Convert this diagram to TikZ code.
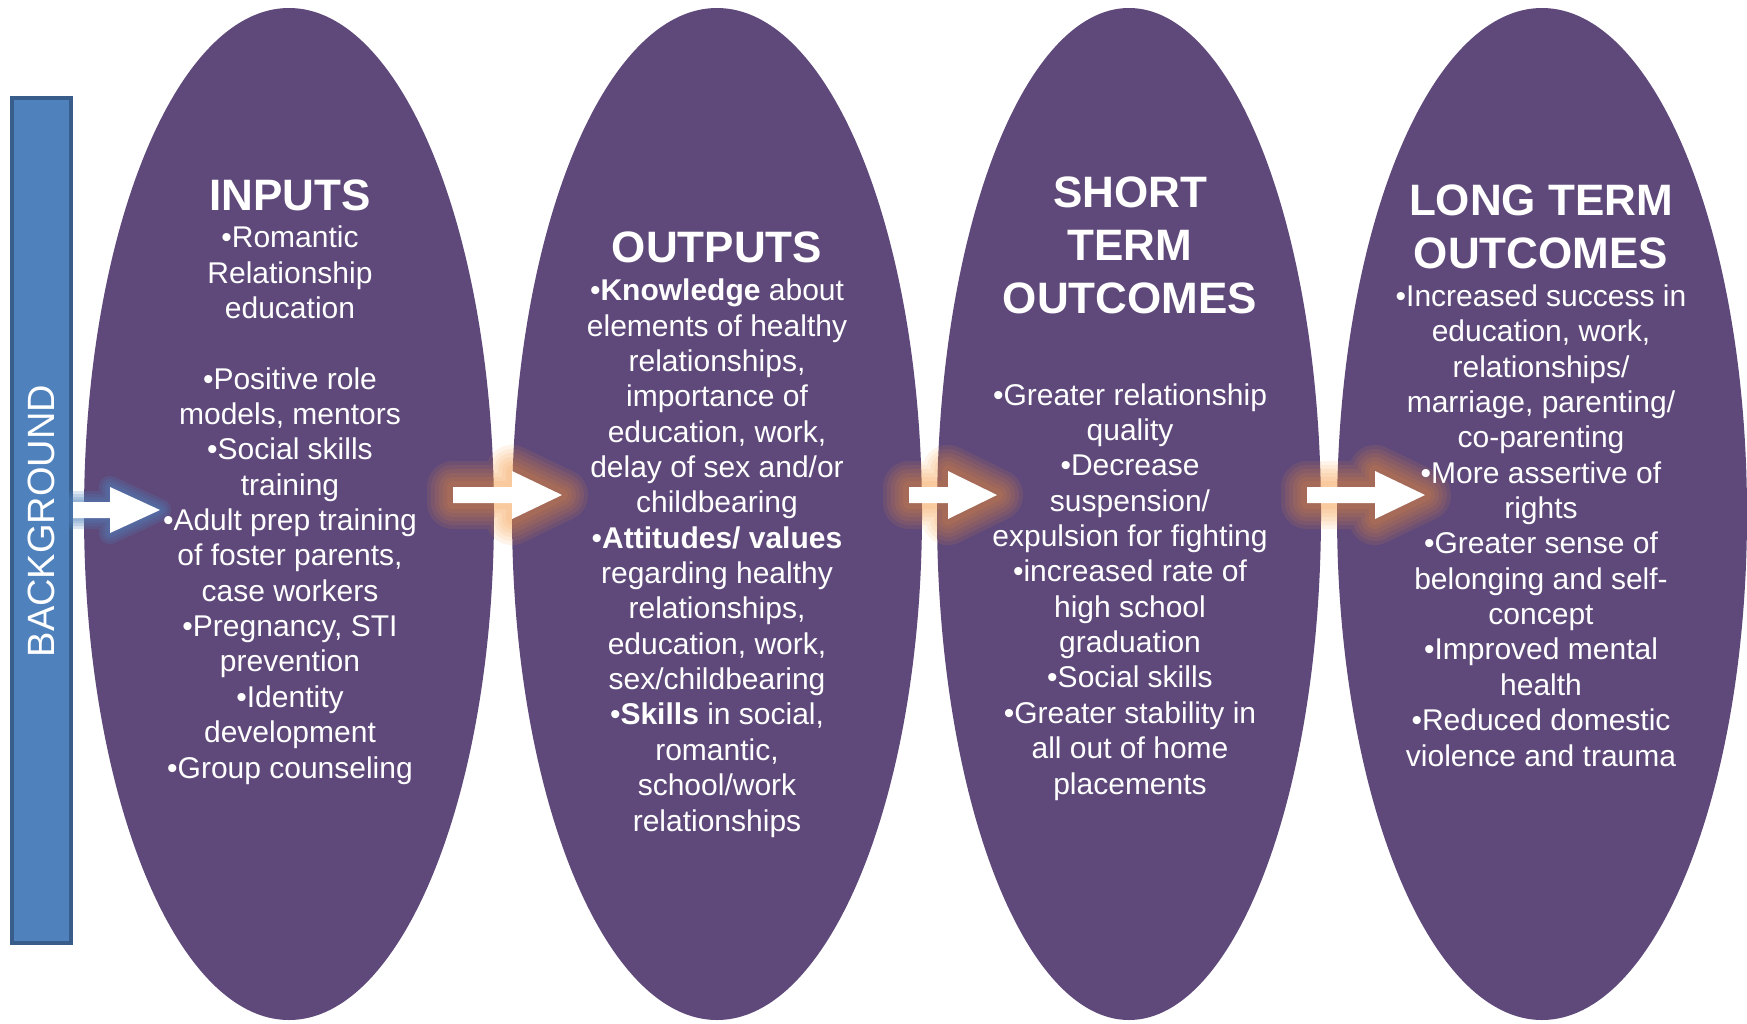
\documentclass[tikz,border=0pt]{standalone}
\usepackage{fontspec}
\setmainfont{Liberation Sans}
\usetikzlibrary{shapes.geometric}
\definecolor{ellpurple}{HTML}{5F497A}
\definecolor{barblue}{HTML}{4F81BD}
\definecolor{bardark}{HTML}{385D8A}
\definecolor{glowor}{HTML}{F79438}
\definecolor{glowbl}{HTML}{4F81BD}
% #1 start x, #2 head base x, #3 tip x, #4 centre y, #5 half shaft, #6 half head, #7 options
\newcommand\arrowwith[7]{\path[#7] (#1,#4-#5) -- (#2,#4-#5) -- (#2,#4-#6) -- (#3,#4) -- (#2,#4+#6) -- (#2,#4+#5) -- (#1,#4+#5) -- cycle;}
\tikzset{
  oval/.style={ellipse, fill=ellpurple, inner sep=0pt, minimum height=1012pt},
  ttl/.style={text=white, font=\fontsize{44}{53}\selectfont\bfseries, align=center, inner sep=0pt, anchor=base},
  bdy/.style={text=white, font=\fontsize{30}{35.35}\selectfont, align=center, inner sep=0pt, anchor=base},
}
\begin{document}
\begin{tikzpicture}[x=1pt,y=-1pt]
\useasboundingbox[fill=white] (0,0) rectangle (1747,1023);

% ovals
\node[oval, minimum width=410pt] (e1) at (289,514) {};
\node[oval, minimum width=410pt] (e2) at (717,514) {};
\node[oval, minimum width=384pt] (e3) at (1129,514) {};
\node[oval, minimum width=410pt] (e4) at (1542,514) {};

% background bar
\node[draw=bardark, fill=barblue, line width=4pt, minimum width=59pt, minimum height=845pt, inner sep=0pt] (bar) at (41.5,520.5) {};
\node[rotate=90, text=white, font=\fontsize{38}{40}\selectfont, inner sep=0pt] (bgtext) at (41,521) {BACKGROUND};

% glows
\foreach \w in {22,16,10,5}{\arrowwith{73}{110}{160}{510}{8}{23}{draw=glowbl, line width=\w pt, draw opacity=.2, line join=round}}
\foreach \w in {52,44,36,28,20,12}{
  \arrowwith{453}{512}{562}{495}{8}{24}{draw=glowor, line width=\w pt, draw opacity=.1, line join=round}
  \arrowwith{909}{948}{997}{495}{8}{24}{draw=glowor, line width=\w pt, draw opacity=.1, line join=round}
  \arrowwith{1307}{1375}{1425}{495}{8}{24}{draw=glowor, line width=\w pt, draw opacity=.1, line join=round}
}
% arrows
\arrowwith{73}{110}{160}{510}{8}{23}{fill=white}
\arrowwith{453}{512}{562}{495}{8}{24}{fill=white}
\arrowwith{909}{948}{997}{495}{8}{24}{fill=white}
\arrowwith{1307}{1375}{1425}{495}{8}{24}{fill=white}

% texts (anchor = baseline of the last line)
\node[ttl] (t1) at (290,210) {INPUTS};
\node[bdy] (b1) at (290,778) {•Romantic\\Relationship\\education\\[35.35pt]•Positive role\\models, mentors\\•Social skills\\training\\•Adult prep training\\of foster parents,\\case workers\\•Pregnancy, STI\\prevention\\•Identity\\development\\•Group counseling};

\node[ttl] (t2) at (717,262) {OUTPUTS};
\node[bdy] (b2) at (717,831) {•\textbf{Knowledge} about\\elements of healthy\\relationships,\\importance of\\education, work,\\delay of sex and/or\\childbearing\\•\textbf{Attitudes/ values}\\regarding healthy\\relationships,\\education, work,\\sex/childbearing\\•\textbf{Skills} in social,\\romantic,\\school/work\\relationships};

\node[ttl] (t3) at (1130,313) {SHORT\\TERM\\OUTCOMES};
\node[bdy] (b3) at (1130,794) {•Greater relationship\\quality\\•Decrease\\suspension/\\expulsion for fighting\\•increased rate of\\high school\\graduation\\•Social skills\\•Greater stability in\\all out of home\\placements};

\node[ttl] (t4) at (1541,268) {LONG TERM\\OUTCOMES};
\node[bdy] (b4) at (1541,766) {•Increased success in\\education, work,\\relationships/\\marriage, parenting/\\co-parenting\\•More assertive of\\rights\\•Greater sense of\\belonging and self-\\concept\\•Improved mental\\health\\•Reduced domestic\\violence and trauma};
\end{tikzpicture}
\end{document}
